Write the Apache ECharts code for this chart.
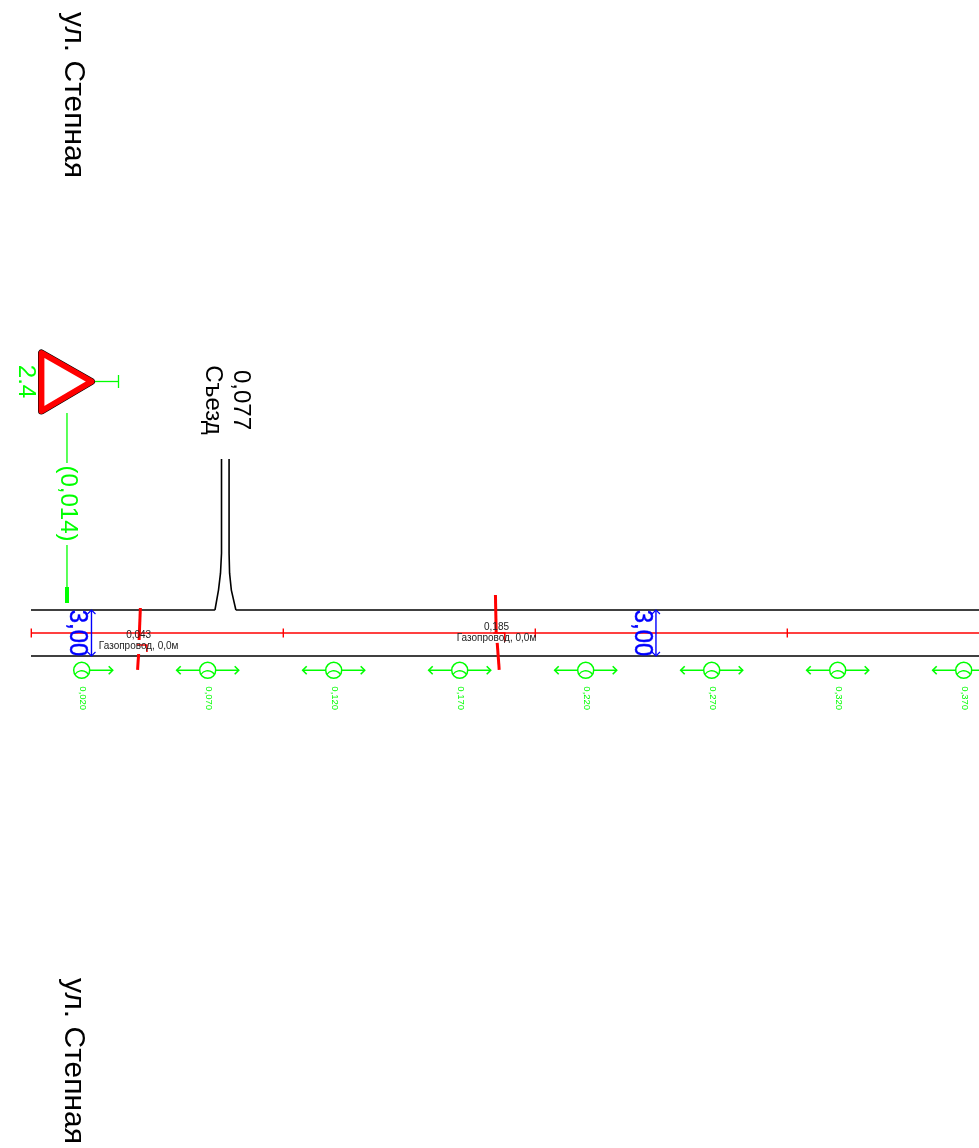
<!DOCTYPE html>
<html><head><meta charset="utf-8">
<style>html,body{margin:0;padding:0;background:#fff}#c{width:979px;height:1148px}</style>
<script src="https://cdn.jsdelivr.net/npm/echarts@6/dist/echarts.min.js"></script>
</head><body><div id="c"></div>
<script>
// chainage in km, offset in metres from the centre line (up = positive)
const roadEdgeOffsets = [1.5, -1.5];
const roadEndKm = 0.3762;
const kmTicks = [0, 0.1, 0.2, 0.3];
const lampKm = [0.02, 0.07, 0.12, 0.17, 0.22, 0.27, 0.32, 0.37];
const lampLabels = ['0,020','0,070','0,120','0,170','0,220','0,270','0,320','0,370'];
const lampOffset = -2.41;
const pipeKm = [0.043, 0.185];
const pipeLabels = ['0,043','0,185'];
const pipeNames = ['Газопровод, 0,0м','Газопровод, 0,0м'];
const pipeUpper = [[[0.0434,1.63],[0.0429,-0.46]], [[0.1843,2.48],[0.1846,0]]];
const pipeLower = [[[0.0427,-1.37],[0.0423,-2.41]], [[0.1850,-0.65],[0.1858,-2.41]]];
const pipeLeader = [[[0.0420,-0.78],[0.0460,-0.78],[0.0460,-1.24]], [[0.1835,0],[0.1880,0],[0.1880,-0.57]]];
const pipeTextOffset = [-0.48, 0];
const rampLeftKm = [0.0730,0.0744,0.0752,0.0756,0.0756];
const rampRightKm = [0.0813,0.0795,0.0788,0.0786,0.0786];
const rampOffsets = [1.5,2.8,3.9,5.2,11.35];
const dimKm = [0.0240, 0.2480];
const dimLabelKm = [0.0184, 0.2426];
const dimLabel = '3,00';
const signKm = 0.014;
const signValue = '2.4';
const signDist = '(0,014)';
const rampName = 'Съезд';
const rampKmLabel = '0,077';
const streetName = 'ул. Степная';

const GREEN='#00ff00', RED='#ff0000', BLUE='#0000ff', BLACK='#000000';
const FONT='"Liberation Sans", Arial, sans-serif';
const PX_KM=2520, PX_M=46/3;
const X0=31, Y0=633, W=979, H=1148;

const chart=echarts.init(document.getElementById('c'),null,{renderer:'canvas'});

function rotText(x,y,text,size,color,opts){
  const o=opts||{};
  return {type:'text',x,y,rotation:-Math.PI/2,scaleX:o.sx||1,silent:true,
    style:{text,fontSize:size,fontFamily:FONT,fill:color,align:'center',verticalAlign:'middle',
      stroke:o.stroke?color:null,lineWidth:o.stroke||0}};
}
function hText(x,y,text,size,color){
  return {type:'text',x,y,silent:true,
    style:{text,fontSize:size,fontFamily:FONT,fill:color,align:'center',verticalAlign:'middle'}};
}
function seg(a,b,color,w){
  return {type:'line',silent:true,shape:{x1:a[0],y1:a[1],x2:b[0],y2:b[1]},style:{stroke:color,lineWidth:w}};
}
function poly(pts,color,w){
  return {type:'polyline',silent:true,shape:{points:pts},style:{stroke:color,lineWidth:w,fill:null}};
}

function renderOverlay(params,api){
  const P=(km,m)=>api.coord([km,m]);
  const ch=[];
  kmTicks.forEach(k=>{const p=P(k,0);ch.push(seg([p[0]+.3,p[1]-4.5],[p[0]+.3,p[1]+4.5],RED,1.4));});
  pipeKm.forEach((k,i)=>{
    const u=pipeUpper[i].map(q=>P(q[0],q[1])), l=pipeLower[i].map(q=>P(q[0],q[1]));
    ch.push(seg(u[0],u[1],RED,3),seg(l[0],l[1],RED,3));
    ch.push(poly(pipeLeader[i].map(q=>P(q[0],q[1])),RED,1.6));
    const base=P(k,pipeTextOffset[i]);
    ch.push(hText(base[0]-.7,base[1]-5.5,pipeLabels[i],10,'#222'));
    ch.push(hText(base[0]-.7,base[1]+5.5,pipeNames[i],10,'#222'));
  });
  lampKm.forEach((k,i)=>{
    const c=P(k,lampOffset), x=c[0]+.3, y=c[1]+.3;
    ch.push({type:'circle',silent:true,shape:{cx:x,cy:y,r:8},style:{stroke:GREEN,lineWidth:1.5,fill:'#fff'}});
    ch.push({type:'arc',silent:true,shape:{cx:x,cy:y+8.5,r:8,startAngle:-Math.PI*0.81,endAngle:-Math.PI*0.19},style:{stroke:GREEN,lineWidth:1.3,fill:null}});
    ch.push(seg([x+8,y],[x+31,y],GREEN,1.5), poly([[x+27,y-4],[x+31,y],[x+27,y+4]],GREEN,1.6));
    if(i>0) ch.push(seg([x-8,y],[x-31,y],GREEN,1.5), poly([[x-27,y-4],[x-31,y],[x-27,y+4]],GREEN,1.6));
    ch.push(rotText(x+.5,y+28,lampLabels[i],9.5,GREEN));
  });
  dimKm.forEach((k,i)=>{
    const a=P(k,1.5), b=P(k,-1.5), t=P(dimLabelKm[i],0);
    ch.push(seg(a,b,BLUE,1.4));
    ch.push(poly([[a[0]-4,a[1]+4],[a[0],a[1]],[a[0]+4,a[1]+4]],BLUE,1.2));
    ch.push(poly([[b[0]-4,b[1]-4],[b[0],b[1]],[b[0]+4,b[1]-4]],BLUE,1.2));
    ch.push(rotText(t[0]-.2,t[1],dimLabel,26,BLUE,{sx:.92,stroke:.5}));
  });
  const s=P(signKm,0), sx=s[0]+.7;
  ch.push(seg([sx,587],[sx,603],GREEN,4));
  ch.push(seg([sx,413],[sx,463],GREEN,1.3),seg([sx,545],[sx,587],GREEN,1.3));
  ch.push(rotText(sx+1,503.5,signDist,24,GREEN));
  ch.push(seg([93,381.5],[118,381.5],GREEN,1.3),seg([118.5,375],[118.5,388],GREEN,1.3));
  const tri=[[41.5,353],[41.5,411],[91.5,381.5]];
  ch.push({type:'polygon',silent:true,shape:{points:tri},style:{stroke:BLACK,lineWidth:7,lineJoin:'round',fill:'#fff'}});
  ch.push({type:'polygon',silent:true,shape:{points:tri},style:{stroke:RED,lineWidth:5.8,lineJoin:'round',fill:'#fff'}});
  ch.push(rotText(25.5,381.5,signValue,24,GREEN));
  ch.push(rotText(212.3,400,rampName,24,BLACK),rotText(240.3,400,rampKmLabel,24,BLACK));
  ch.push(rotText(73.5,95,streetName,30,BLACK),rotText(73.5,1061,streetName,30,BLACK));
  return {type:'group',children:ch};
}

function lineSeries(data,color,w,z){
  return {type:'line',data,symbol:'none',silent:true,animation:false,z:z||2,clip:false,
    lineStyle:{color,width:w},itemStyle:{color}};
}
const series=[];
roadEdgeOffsets.forEach(m=>{
  if(m>0){
    series.push(lineSeries([[0,m],[rampLeftKm[0],m]],BLACK,1.6));
    series.push(lineSeries([[rampRightKm[0],m],[roadEndKm,m]],BLACK,1.6));
  } else series.push(lineSeries([[0,m],[roadEndKm,m]],BLACK,1.6));
});
series.push(lineSeries(rampLeftKm.map((k,i)=>[k,rampOffsets[i]]),BLACK,1.6));
series.push(lineSeries(rampRightKm.map((k,i)=>[k,rampOffsets[i]]),BLACK,1.6));
series.push(lineSeries([[0,0],[roadEndKm,0]],RED,1.4,3));
series.push({type:'custom',renderItem:renderOverlay,data:[[0,0]],silent:true,animation:false,z:5,clip:false});

chart.setOption({
  animation:false,backgroundColor:'#fff',
  grid:{left:0,right:0,top:0,bottom:0},
  xAxis:{type:'value',show:false,min:-X0/PX_KM,max:(W-X0)/PX_KM,scale:true},
  yAxis:{type:'value',show:false,min:(Y0-H)/PX_M,max:Y0/PX_M,scale:true},
  tooltip:{show:false},
  series
});
</script></body></html>
